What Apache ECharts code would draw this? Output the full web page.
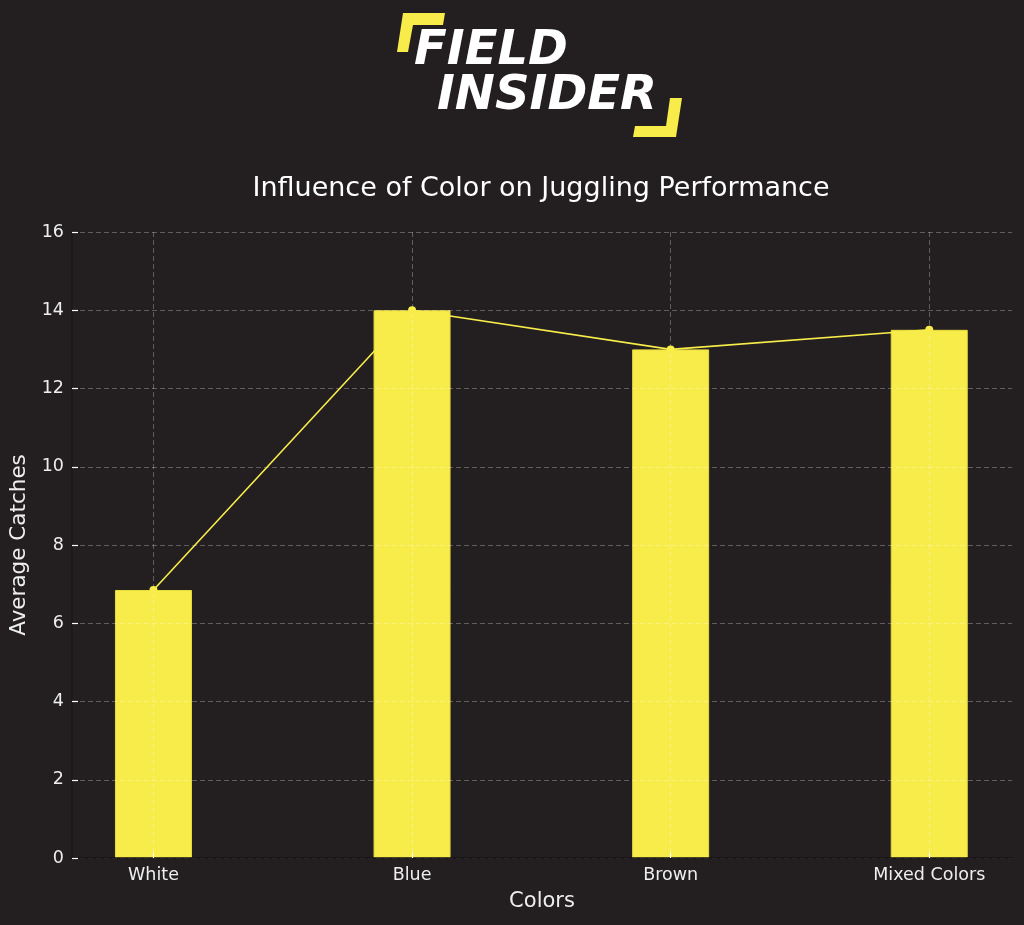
<!DOCTYPE html>
<html>
<head>
<meta charset="utf-8">
<title>Influence of Color on Juggling Performance</title>
<script src="https://cdn.jsdelivr.net/npm/echarts@6/dist/echarts.min.js"></script>
<style>
  html, body { margin: 0; padding: 0; background: #231f20; }
  #chart { width: 1024px; height: 925px; }
</style>
</head>
<body>
<div id="chart"></div>
<script>
// data
const colorNames = ['White', 'Blue', 'Brown', 'Mixed Colors'];
const avgCatches = [6.85, 14, 13, 13.5];
const yTicks = [0, 2, 4, 6, 8, 10, 12, 14, 16];

const YELLOW = '#f7ec4a';
const TEXT = '#eeeeee';

const chart = echarts.init(document.getElementById('chart'));

// bars sit on a value x axis so the category centres line up with the picture
const points = avgCatches.map((v, i) => [i, v]);
const tickPos = colorNames.map((_, i) => i);

const option = {
    backgroundColor: '#231f20',
    animation: false,
    textStyle: { fontFamily: 'DejaVu Sans' },
    title: {
        text: 'Influence of Color on Juggling Performance',
        left: 536,
        top: 170,
        textAlign: 'center',
        textStyle: { color: '#ffffff', fontSize: 27, fontWeight: 'normal', fontFamily: 'DejaVu Sans' },
    },
    grid: {
        left: 72, right: 12, top: 232, bottom: 67,
        containLabel: false,
        outerBoundsMode: 'none',
    },
    xAxis: {
        type: 'value',
        min: -0.315,
        max: 3.32,
        z: 3,
        name: 'Colors',
        nameLocation: 'middle',
        nameGap: 33,
        nameTextStyle: { color: TEXT, fontSize: 21 },
        axisLine: { show: true, onZero: false, lineStyle: { color: '#161314', width: 1.5 } },
        axisTick: {
            show: true, inside: true, length: 5,
            customValues: tickPos,
            lineStyle: { color: '#ffffff', width: 1.2 },
        },
        axisLabel: {
            color: TEXT, fontSize: 17.5, margin: 8,
            customValues: tickPos,
            formatter: (v) => colorNames[Math.round(v)] || '',
        },
        splitLine: {
            show: true,
            lineStyle: { color: 'rgba(255,255,255,0.28)', type: [5, 3], width: 1 },
        },
    },
    yAxis: {
        type: 'value',
        min: 0,
        max: 16,
        interval: 2,
        z: 3,
        name: 'Average Catches',
        nameLocation: 'middle',
        nameGap: 40,
        nameRotate: 90,
        nameTextStyle: { color: TEXT, fontSize: 21.5 },
        axisLine: { show: true, onZero: false, lineStyle: { color: '#1b1819', width: 1.5 } },
        axisTick: { show: true, inside: true, length: 6, lineStyle: { color: '#ffffff', width: 1.2 } },
        axisLabel: {
            color: TEXT, fontSize: 17.5, margin: 8,
            formatter: (v) => (yTicks.includes(v) ? String(v) : ''),
        },
        splitLine: {
            show: true,
            lineStyle: { color: 'rgba(255,255,255,0.28)', type: [5, 3], width: 1 },
        },
    },
    series: [
        {
            type: 'bar',
            data: points,
            barWidth: 77,
            z: 2,
            itemStyle: { color: YELLOW, borderColor: '#e8dc3c', borderWidth: 1 },
        },
        {
            type: 'line',
            data: points,
            z: 4,
            symbol: 'circle',
            symbolSize: 8,
            lineStyle: { color: YELLOW, width: 1.6 },
            itemStyle: { color: YELLOW },
        },
    ],
    graphic: [
        // logo: yellow corner brackets
        {
            type: 'polygon',
            shape: { points: [[403, 13], [445, 13], [443, 25], [413, 25], [408, 52], [397, 52]] },
            style: { fill: YELLOW },
        },
        {
            type: 'polygon',
            shape: { points: [[670, 98], [682, 98], [676, 137], [633, 137], [635, 126], [666, 126]] },
            style: { fill: YELLOW },
        },
        {
            type: 'text',
            left: 414,
            top: 28,
            style: {
                text: 'FIELD',
                fill: '#ffffff',
                font: 'italic bold 48px "DejaVu Sans"',
            },
        },
        {
            type: 'text',
            left: 437,
            top: 73,
            style: {
                text: 'INSIDER',
                fill: '#ffffff',
                font: 'italic bold 48px "DejaVu Sans"',
            },
        },
    ],
};

chart.setOption(option);
</script>
</body>
</html>
